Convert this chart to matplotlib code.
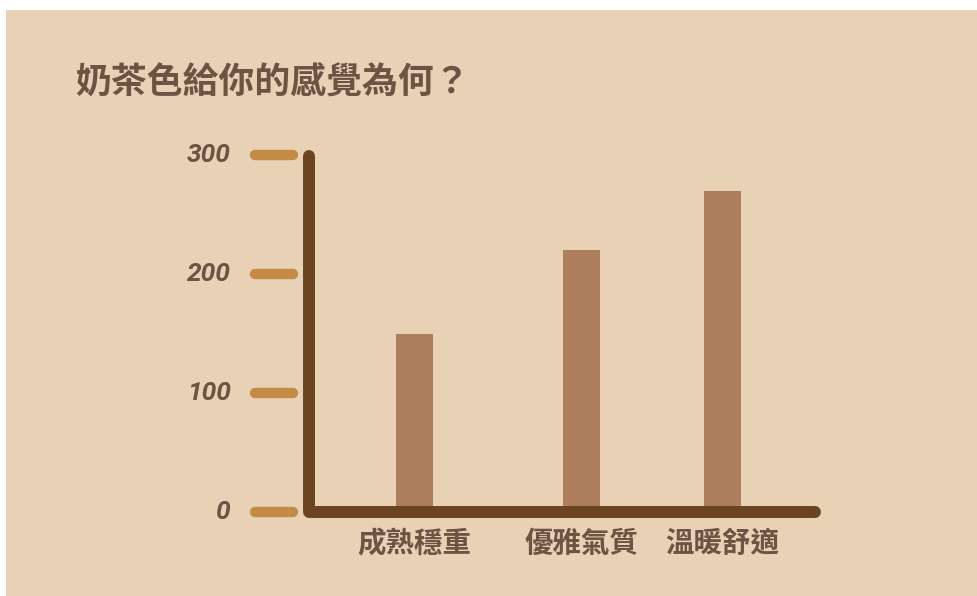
import matplotlib
matplotlib.use("Agg")
import matplotlib.pyplot as plt
from matplotlib.patches import Rectangle
from matplotlib.transforms import blended_transform_factory

# ---- data ----
title = "奶茶色給你的感覺為何？"
categories = ["成熟穩重", "優雅氣質", "溫暖舒適"]
values = [150, 220, 270]
y_ticks = [0, 100, 200, 300]
y_tick_labels = ["0", "100", "200", "300"]

# ---- layout / style ----
bar_pos = [0.2085, 0.5385, 0.817]   # uneven spacing, as in reference
bar_width = 0.073
BG = "#E8D1B5"
BAR = "#AE7D5C"
AXIS = "#6B4522"
TICK = "#C48B45"
TEXT = "#6B5444"
CJK = ["Noto Sans CJK TC", "DejaVu Sans"]

W, H = 978, 596
fig = plt.figure(figsize=(W / 100, H / 100), dpi=100)
fig.patch.set_facecolor("white")
fig.add_artist(Rectangle((6 / W, 0), 1 - 6 / W, 1 - 10 / H,
                         transform=fig.transFigure, facecolor=BG,
                         edgecolor="none", zorder=-10))

# axes: left 309px, right 815px, baseline 512px, top 150px
left_px, right_px, base_px, top_px = 309, 815, 512, 156
ax = fig.add_axes([left_px / W, (H - base_px) / H,
                   (right_px - left_px) / W, (base_px - top_px) / H])
ax.set_facecolor("none")
for s in ax.spines.values():
    s.set_visible(False)

ymax = 300 * (base_px - top_px) / (base_px - 155)
ax.set_ylim(0, ymax)
ax.set_xlim(0, 1)

ax.bar(bar_pos, values, width=bar_width, color=BAR, zorder=2)

# axis lines (L-shape with rounded corner / end)
ax.plot([0, 0, 1], [1, 0, 0], transform=ax.transAxes, color=AXIS,
        lw=8.6, solid_joinstyle="round", solid_capstyle="round",
        clip_on=False, zorder=3)

# decorative y tick marks + labels
bt = blended_transform_factory(ax.transAxes, ax.transData)
x0 = (255 - left_px) / (right_px - left_px)
x1 = (293 - left_px) / (right_px - left_px)
xl = (231 - left_px) / (right_px - left_px)
for v, lab in zip(y_ticks, y_tick_labels):
    ax.plot([x0, x1], [v, v], transform=bt, color=TICK, lw=7.5,
            solid_capstyle="round", clip_on=False, zorder=3)
    ax.text(xl, v, lab, transform=bt, ha="right", va="center",
            fontsize=19, fontstyle="italic", fontweight="bold",
            family=["Roboto", "DejaVu Sans"], color=TEXT)
ax.set_yticks([])

ax.set_xticks(bar_pos)
ax.set_xticklabels(categories, family=CJK, fontsize=20.5,
                   fontweight="bold", color=TEXT)
ax.tick_params(axis="x", length=0, pad=13)

fig.text(75 / W, (H - 82) / H, title, family=CJK, fontsize=25.8,
         fontweight="bold", color=TEXT, ha="left", va="center")

fig.savefig("out.png", dpi=100, facecolor=fig.get_facecolor())
